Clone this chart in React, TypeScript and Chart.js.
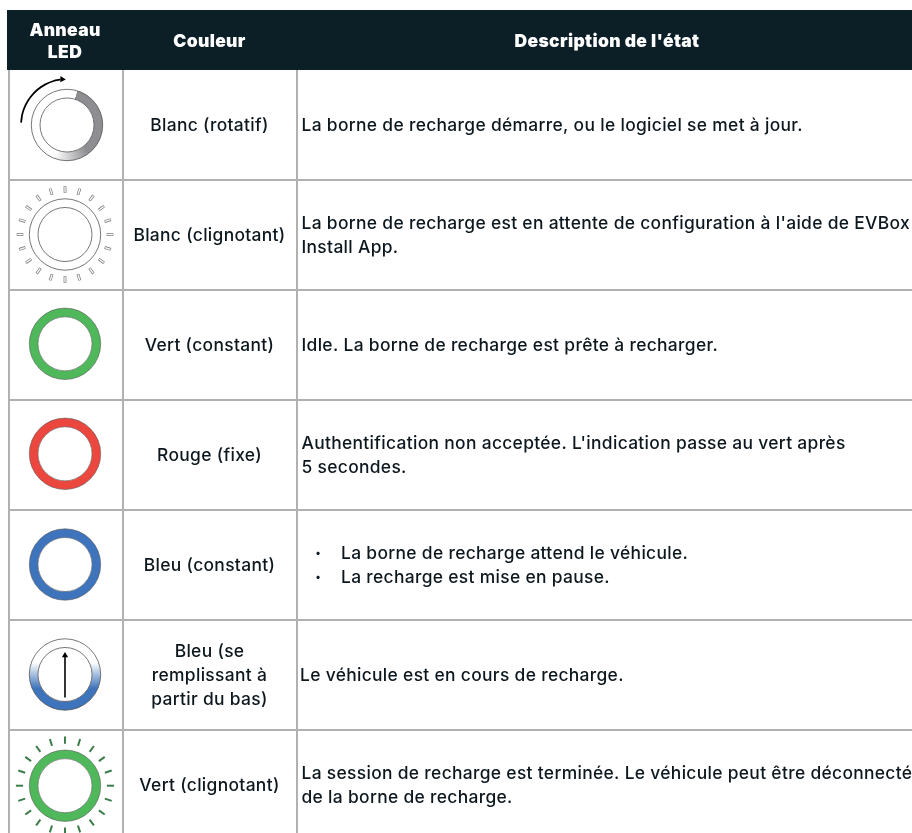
import React, { useEffect, useRef } from "react";
import { Chart, registerables } from "chart.js";

Chart.register(...registerables);

// ---- table content ----
const headerColumns = ["Couleur", "Description de l'état"];
const headerFirstColumn = ["Anneau", "LED"];
const couleurLabels = [
  ["Blanc (rotatif)"],
  ["Blanc (clignotant)"],
  ["Vert (constant)"],
  ["Rouge (fixe)"],
  ["Bleu (constant)"],
  ["Bleu (se", "remplissant à", "partir du bas)"],
  ["Vert (clignotant)"],
];
const descriptionLabels = [
  ["La borne de recharge démarre, ou le logiciel se met à jour."],
  ["La borne de recharge est en attente de configuration à l'aide de EVBox", "Install App."],
  ["Idle. La borne de recharge est prête à recharger."],
  ["Authentification non acceptée. L'indication passe au vert après", "5 secondes."],
  ["La borne de recharge attend le véhicule.", "La recharge est mise en pause."],
  ["Le véhicule est en cours de recharge."],
  ["La session de recharge est terminée. Le véhicule peut être déconnecté", "de la borne de recharge."],
];
const bulletRows = [4];
const rowIndexes = [0, 1, 2, 3, 4, 5, 6];
const solidRings = [
  { row: 2, colour: "#4fb85a" },
  { row: 3, colour: "#ec473e" },
  { row: 4, colour: "#3e74bb" },
  { row: 6, colour: "#4fb85a" },
];
const rayAngles = [0, 18, 36, 54, 72, 90, 108, 126, 144, 162, 180, 198, 216, 234, 252, 270, 288, 306, 324, 342];
const rotationArrowAngles = [-87, -76, -64, -52, -40, -28, -17, -8];

// ---- layout of the table, in pixels ----
const ROW_H = 110;
const ROW0 = 124.5;
const rowCentreNudge = [0.5, 0, -0.7, -0.7, 0, 0, 1.2];
const ringX = [67, 65, 65, 65, 65, 65, 65];
const descriptionX = [301.5, 301.5, 301.5, 301.5, 341, 300, 301.5];
const rowY = (row: number, px = 0) => row + (px + rowCentreNudge[row]) / ROW_H;
const pxY = (px: number) => (px - ROW0) / ROW_H;
const polar = (row: number, angle: number, r: number) => {
  const a = (angle * Math.PI) / 180;
  return { x: ringX[row] + r * Math.sin(a), y: rowY(row, -r * Math.cos(a)) };
};

const BAND_R = 31.4;
const BAND_W = 8.6;
const OUTER_R = 35.7;
const INNER_R = 27;
const INK = "#0c171e";

function point(row: number) {
  return [{ x: ringX[row], y: rowY(row) }];
}

function circle(row: number, radius: number, width: number, colour: any) {
  return {
    type: "scatter",
    data: point(row),
    pointStyle: "circle",
    pointRadius: radius,
    pointBorderWidth: width,
    pointBorderColor: colour,
    pointBackgroundColor: "rgba(0,0,0,0)",
    clip: false,
  };
}

function rays(row: number, r: number, half: number, width: number, colour: string) {
  return {
    type: "scatter",
    data: rayAngles.map((a) => polar(row, a, r)),
    pointStyle: "line",
    pointRadius: half,
    pointBorderWidth: width,
    pointBorderColor: colour,
    pointRotation: rayAngles.map((a) => a - 90),
    clip: false,
  };
}

function wedgeGradient(ctx: any) {
  const chart = ctx.chart;
  if (!chart.scales.x) return "#8e8d91";
  const cx = chart.scales.x.getPixelForValue(ringX[0]);
  const cy = chart.scales.y.getPixelForValue(rowY(0));
  if (!Number.isFinite(cx) || !Number.isFinite(cy)) return "#8e8d91";
  const g = chart.ctx.createConicGradient(((17 - 90) * Math.PI) / 180, cx, cy);
  g.addColorStop(0, "#8e8d91");
  g.addColorStop(125 / 360, "#8e8d91");
  g.addColorStop(185 / 360, "#ffffff");
  g.addColorStop(0.999, "#ffffff");
  g.addColorStop(1, "#8e8d91");
  return g;
}

function fillGradient(ctx: any) {
  const chart = ctx.chart;
  if (!chart.scales.y) return "#3e74bb";
  const y = (px: number) => chart.scales.y.getPixelForValue(rowY(5, px));
  if (!Number.isFinite(y(0))) return "#3e74bb";
  const g = chart.ctx.createLinearGradient(0, y(-12), 0, y(14));
  g.addColorStop(0, "#ffffff");
  g.addColorStop(1, "#3e74bb");
  return g;
}

const tablePlugin = {
  id: "tableText",
  afterDatasetsDraw(chart: any) {
    const { ctx, scales } = chart;
    const Y = (px: number) => scales.y.getPixelForValue(pxY(px));
    const X = (v: number) => scales.x.getPixelForValue(v);
    ctx.save();
    ctx.textBaseline = "middle";

    ctx.fillStyle = "#ffffff";
    ctx.textAlign = "center";
    ctx.font = "900 17.5px Inter";
    ctx.letterSpacing = "0.33px";
    headerFirstColumn.forEach((t, i) => ctx.fillText(t, X(65), Y(30.5 + i * 22)));
    ctx.fillText(headerColumns[0], X(209.5), Y(41.5));
    ctx.fillText(headerColumns[1], X(607), Y(41.5));

    ctx.font = "500 17.4px Inter";
    ctx.letterSpacing = "0.33px";
    ctx.fillStyle = INK;
    rowIndexes.forEach((row) => {
      const centre = ROW0 + row * ROW_H + 1.5;
      const col = couleurLabels[row];
      col.forEach((t, i) => {
        ctx.textAlign = "center";
        ctx.fillText(t, X(209.5), Y(centre + (i - (col.length - 1) / 2) * 24));
      });
      const desc = descriptionLabels[row];
      const bullet = bulletRows.includes(row);
      desc.forEach((t, i) => {
        const yy = centre + (i - (desc.length - 1) / 2) * 24;
        ctx.textAlign = "left";
        ctx.fillText(t, X(descriptionX[row]), Y(yy));
        if (bullet) {
          ctx.font = "800 17.4px Inter";
          ctx.fillText("·", X(315), Y(yy));
          ctx.font = "500 17.4px Inter";
        }
      });
    });
    ctx.restore();
  },
};

export default function App() {
  const ref = useRef<HTMLCanvasElement | null>(null);
  useEffect(() => {
    if (!ref.current) return;
    const datasets: any[] = [
      // header band
      {
        type: "line",
        data: [
          { x: 7, y: pxY(40) },
          { x: 912, y: pxY(40) },
        ],
        borderColor: "#0c1e26",
        borderWidth: 60,
        pointRadius: 0,
        clip: false,
      },
      // row 0, rotating white
      circle(0, BAND_R, BAND_W, wedgeGradient),
      circle(0, OUTER_R, 0.8, "#555555"),
      circle(0, INNER_R, 0.8, "#555555"),
      {
        type: "line",
        data: rotationArrowAngles.map((a) => polar(0, a, 46)),
        borderColor: "#000000",
        borderWidth: 1.8,
        tension: 0.3,
        pointRadius: 0,
        clip: false,
      },
      {
        type: "scatter",
        data: [polar(0, -6, 46)],
        pointStyle: "triangle",
        pointRadius: 3.6,
        pointRotation: 92,
        pointBackgroundColor: "#000000",
        pointBorderWidth: 0,
        clip: false,
      },
      // row 1, blinking white
      rays(1, 45, 3.3, 2.8, "#7d7d7d"),
      rays(1, 45, 2.8, 1.3, "#ffffff"),
      circle(1, OUTER_R, 0.8, "#555555"),
      circle(1, INNER_R, 0.8, "#555555"),
      // solid rings
      ...solidRings.flatMap((r) => [
        circle(r.row, BAND_R, BAND_W, r.colour),
        circle(r.row, OUTER_R, 0.6, "#5c5c5c"),
        circle(r.row, INNER_R, 0.6, "#5c5c5c"),
      ]),
      // row 5, filling blue
      circle(5, BAND_R, BAND_W, fillGradient),
      circle(5, OUTER_R, 0.8, "#555555"),
      circle(5, INNER_R, 0.8, "#555555"),
      {
        type: "line",
        data: [
          { x: ringX[5], y: rowY(5, 23) },
          { x: ringX[5], y: rowY(5, -18) },
        ],
        borderColor: "#000000",
        borderWidth: 1.6,
        pointRadius: 0,
        clip: false,
      },
      {
        type: "scatter",
        data: [{ x: ringX[5], y: rowY(5, -19) }],
        pointStyle: "triangle",
        pointRadius: 3.6,
        pointBackgroundColor: "#000000",
        pointBorderWidth: 0,
        clip: false,
      },
      // row 6, blinking green
      rays(6, 45.5, 3.6, 2, "#3c7d4a"),
    ];
    datasets.forEach((d, i) => (d.order = datasets.length - i));

    const chart = new Chart(ref.current, {
      type: "scatter",
      data: { datasets },
      plugins: [tablePlugin],
      options: {
        animation: false,
        responsive: false,
        events: [],
        layout: { autoPadding: false, padding: { left: 8, top: 10, right: 0, bottom: 0 } },
        plugins: { legend: { display: false }, tooltip: { enabled: false }, title: { display: false } },
        scales: {
          x: {
            type: "linear",
            bounds: "data",
            min: 8,
            max: 912,
            border: { display: false },
            ticks: { display: false },
            grid: { color: "#b1b1b1", lineWidth: 2, drawTicks: false },
            afterBuildTicks: (s: any) => {
              s.ticks = [8.5, 123.5, 297].map((value) => ({ value }));
            },
          },
          y: {
            type: "linear",
            bounds: "data",
            reverse: true,
            min: pxY(10),
            max: pxY(833),
            border: { display: false },
            ticks: { display: false },
            grid: { color: "#b1b1b1", lineWidth: 2, drawTicks: false },
            afterBuildTicks: (s: any) => {
              s.ticks = rowIndexes.slice(0, 6).map((r) => ({ value: r + 0.5 }));
            },
          },
        },
      } as any,
    } as any);
    return () => chart.destroy();
  }, []);
  return (
    <div style={{ position: "absolute", left: 0, top: 0, width: 912, height: 833, background: "#fff" }}>
      <canvas ref={ref} width={912} height={833} style={{ display: "block" }} />
    </div>
  );
}
